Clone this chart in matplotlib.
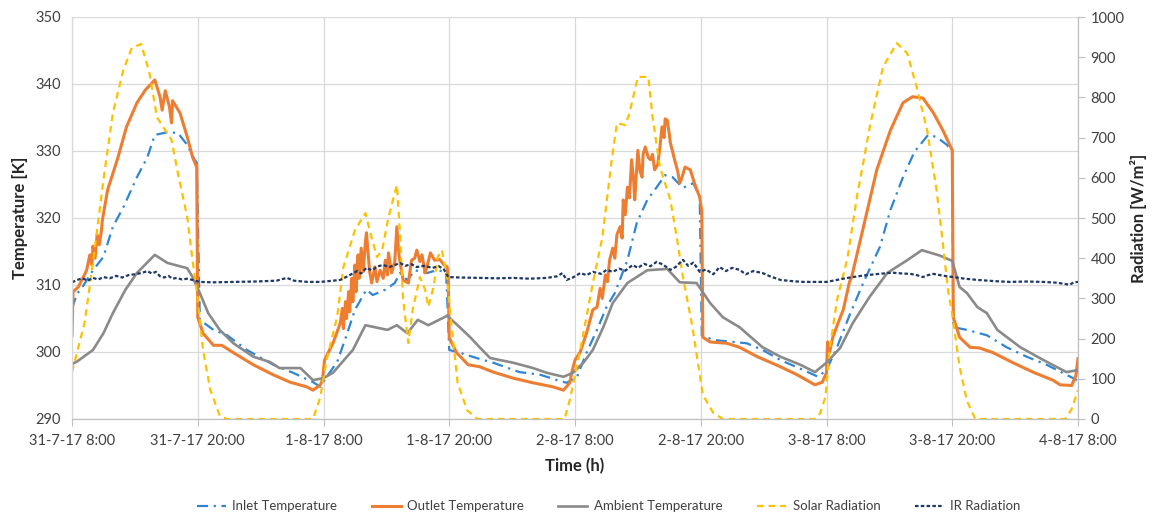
import matplotlib
matplotlib.use("Agg")
import matplotlib.pyplot as plt

plt.rcParams['font.family'] = ['Lato', 'DejaVu Sans']

# x values are hours since 31-7-17 8:00
tick_hours = [0, 12, 24, 36, 48, 60, 72, 84, 96]
tick_labels = ['31-7-17 8:00', '31-7-17 20:00', '1-8-17 8:00', '1-8-17 20:00',
               '2-8-17 8:00', '2-8-17 20:00', '3-8-17 8:00', '3-8-17 20:00',
               '4-8-17 8:00']

# (hour, K)
inlet = [(0, 306.5), (0.5, 308.8), (0.8, 309.2), (2.0, 312.2), (3.0, 314.2), (3.9, 318.7),
         (4.9, 321.6), (6.2, 326.1), (7.2, 329.1), (7.9, 332.4), (9.1, 332.8), (10.1, 332.7),
         (11.0, 330.9), (11.7, 328.7), (11.9, 328.3), (12.2, 304.8), (13.5, 303.3), (14.8, 302.5),
         (16.7, 300.3), (19.2, 298.1), (21.1, 296.9), (23.0, 295.5), (23.7, 294.8), (24.3, 296.3),
         (25.3, 298.5), (26.2, 302.5), (27.0, 306.3), (28.1, 309.3), (28.7, 308.5), (29.9, 309.3),
         (30.8, 310.3), (31.3, 311.8), (32.0, 310.7), (32.7, 312.2), (33.9, 311.8), (34.8, 312.2),
         (35.7, 312.0), (36.0, 300.3), (37.0, 299.9), (38.6, 299.1), (40.2, 298.4), (42.7, 297.0),
         (44.7, 296.6), (46.3, 295.8), (47.2, 295.4), (48.2, 296.3), (49.1, 299.9), (50.1, 303.3),
         (51.0, 306.7), (51.8, 308.8), (53.0, 313.7), (53.9, 319.3), (54.9, 322.7), (55.8, 324.6),
         (56.6, 326.4), (57.3, 326.1), (58.3, 324.5), (59.3, 325.2), (59.9, 323.1), (60.1, 302.5),
         (61.2, 301.8), (63.1, 301.5), (64.4, 301.3), (65.9, 300.3), (67.6, 298.8), (69.8, 297.3),
         (71.2, 296.3), (72.0, 297.3), (73.0, 300.7), (74.2, 305.5), (75.5, 310.3), (77.1, 315.7),
         (78.1, 321.2), (79.3, 326.1), (80.4, 329.9), (81.7, 332.4), (82.5, 332.1), (83.5, 330.9),
         (84.0, 329.9), (84.1, 303.7), (85.4, 303.3), (87.3, 302.5), (89.2, 300.7), (91.1, 299.3),
         (93.0, 298.1), (94.9, 296.6), (95.9, 295.8)]

outlet = [(0, 302.5), (0.1, 309.0), (0.6, 309.7), (1.4, 312.2), (1.7, 314.5), (1.9, 313.0),
          (2.0, 315.8), (2.2, 314.0), (2.4, 317.5), (2.6, 316.0), (2.8, 318.0), (2.9, 319.7),
          (3.4, 324.2), (4.4, 329.1), (5.2, 333.6), (6.2, 337.2), (7.0, 339.1), (7.9, 340.6),
          (8.4, 338.1), (8.6, 336.1), (8.9, 339.0), (9.3, 336.6), (9.5, 334.2), (9.6, 337.5),
          (10.3, 335.7), (11.0, 332.1), (11.5, 329.1), (11.9, 327.6), (12.0, 305.2), (12.5, 302.8),
          (13.5, 301.0), (14.3, 301.0), (15.4, 299.9), (17.3, 298.1), (19.2, 296.6), (20.8, 295.5),
          (22.4, 294.8), (23.0, 294.3), (23.7, 295.1), (23.9, 295.8), (24.1, 298.8), (24.9, 301.3),
          (25.6, 304.3), (25.8, 306.5), (25.9, 303.5), (26.1, 307.5), (26.2, 305.0), (26.4, 309.0),
          (26.5, 306.0), (26.7, 311.0), (26.8, 307.5), (27.0, 313.0), (27.1, 309.0), (27.3, 314.5),
          (27.4, 311.0), (27.6, 315.5), (27.8, 312.0), (28.0, 316.5), (28.1, 317.8), (28.3, 314.0),
          (28.4, 312.0), (28.6, 310.3), (28.9, 312.7), (29.1, 310.5), (29.4, 312.2), (29.7, 311.0),
          (29.9, 313.7), (30.1, 311.5), (30.2, 314.8), (30.5, 311.8), (30.8, 313.5), (31.0, 318.7),
          (31.2, 314.5), (31.4, 312.5), (31.6, 310.7), (32.1, 310.3), (32.4, 313.7), (32.7, 314.0),
          (32.9, 315.2), (33.2, 313.5), (33.4, 314.5), (33.7, 311.8), (34.0, 313.5), (34.2, 314.8),
          (34.6, 313.7), (35.1, 313.8), (35.5, 313.0), (35.8, 312.7), (35.9, 311.0), (36.0, 302.1),
          (36.7, 299.9), (37.8, 298.1), (38.9, 297.8), (40.2, 297.0), (42.1, 296.1), (44.0, 295.4),
          (45.9, 294.8), (46.9, 294.3), (47.5, 295.4), (47.7, 297.0), (48.0, 298.8), (48.5, 300.0),
          (49.1, 302.8), (49.7, 306.3), (50.1, 306.7), (50.4, 309.5), (50.6, 308.0), (50.9, 311.5),
          (51.1, 310.5), (51.3, 313.7), (51.6, 315.5), (51.8, 314.0), (52.0, 317.5), (52.3, 318.7),
          (52.5, 317.0), (52.6, 322.7), (52.8, 320.5), (53.0, 324.6), (53.2, 323.0), (53.4, 328.7),
          (53.6, 325.5), (53.7, 322.7), (53.9, 327.5), (54.0, 330.1), (54.2, 327.0), (54.4, 326.1),
          (54.5, 329.5), (54.7, 330.6), (55.0, 329.0), (55.2, 328.7), (55.4, 329.5), (55.6, 327.2),
          (55.9, 328.0), (56.1, 330.5), (56.3, 333.6), (56.5, 332.0), (56.6, 334.8), (56.8, 334.6),
          (57.0, 332.5), (57.1, 331.2), (57.3, 330.0), (57.5, 328.7), (57.8, 327.0), (58.0, 325.2),
          (58.2, 326.0), (58.5, 327.6), (59.0, 327.2), (59.4, 325.2), (59.9, 323.1), (60.1, 321.0),
          (60.2, 302.2), (60.9, 301.5), (62.5, 301.3), (63.7, 300.7), (65.4, 299.3), (67.6, 297.8),
          (69.2, 296.6), (70.9, 295.1), (71.6, 295.5), (72.0, 296.9), (72.1, 301.5), (72.3, 300.0),
          (72.6, 302.2), (73.1, 304.3), (73.6, 306.3), (74.2, 310.5), (74.4, 311.2), (75.5, 318.5),
          (76.8, 327.2), (78.1, 333.1), (79.3, 337.2), (80.2, 338.1), (81.2, 337.9), (82.2, 335.7),
          (83.1, 333.1), (84.0, 330.1), (84.1, 305.2), (84.7, 302.2), (85.7, 300.7), (86.6, 300.6),
          (87.9, 299.9), (89.8, 298.4), (91.7, 297.0), (93.6, 295.8), (94.3, 295.1), (95.4, 295.0),
          (95.8, 296.5), (96.0, 299.0)]

ambient = [(0, 298.2), (0.5, 298.6), (2.0, 300.3), (3.0, 302.8), (3.9, 305.8), (5.1, 309.3),
           (6.2, 311.8), (7.9, 314.5), (9.1, 313.3), (11.0, 312.5), (11.5, 311.2), (12.2, 308.8),
           (13.0, 305.8), (14.1, 303.3), (15.4, 301.3), (17.3, 299.3), (18.9, 298.5), (19.8, 297.6),
           (21.8, 297.6), (23.0, 295.8), (24.0, 296.1), (24.9, 296.9), (26.8, 300.3), (28.0, 304.0),
           (30.1, 303.3), (31.0, 304.0), (32.0, 302.8), (33.0, 304.8), (34.0, 304.0), (35.8, 305.4),
           (37.0, 303.7), (38.0, 302.2), (38.9, 300.7), (39.9, 299.1), (42.1, 298.4), (44.0, 297.6),
           (45.3, 296.9), (46.9, 296.3), (47.8, 296.9), (48.8, 298.4), (49.7, 300.3), (50.7, 303.7),
           (51.6, 307.3), (53.0, 310.3), (54.9, 312.2), (56.8, 312.4), (58.0, 310.4), (59.6, 310.3),
           (60.9, 307.3), (62.1, 305.2), (63.7, 303.7), (65.9, 300.7), (67.6, 299.3), (69.5, 298.1),
           (70.9, 297.0), (72.0, 298.4), (73.3, 300.6), (74.5, 304.3), (76.1, 308.2), (77.8, 311.8),
           (79.7, 313.7), (81.1, 315.2), (82.8, 314.4), (84.0, 313.6), (84.7, 309.7), (85.4, 308.8),
           (86.4, 306.7), (87.3, 305.8), (88.3, 303.3), (90.5, 300.7), (92.7, 298.8), (94.9, 297.0),
           (96.0, 297.3)]

# (hour, W/m2)
solar = [(0, 117), (1.2, 239), (2.0, 388), (3.0, 595), (3.9, 761), (4.9, 868), (5.7, 923),
         (6.6, 933), (7.4, 860), (8.1, 751), (9.5, 694), (10.1, 612), (11.0, 502), (11.5, 395),
         (11.9, 320), (12.5, 172), (13.2, 72), (14.1, 8), (14.8, 0), (23.0, 0), (23.7, 55),
         (24.3, 147), (25.3, 254), (25.9, 378), (27.0, 470), (28.0, 512), (28.4, 470), (29.1, 403),
         (29.6, 420), (30.2, 502), (31.0, 582), (31.3, 462), (31.6, 296), (32.1, 189), (32.5, 271),
         (33.2, 353), (33.7, 321), (34.0, 279), (34.5, 328), (34.9, 403), (35.3, 420), (35.8, 353),
         (36.1, 260), (36.8, 90), (37.7, 22), (38.7, 0), (47.0, 0), (47.5, 47), (48.5, 172),
         (49.7, 338), (50.6, 450), (51.5, 644), (52.0, 736), (52.8, 731), (53.2, 761), (54.0, 851),
         (55.0, 851), (55.4, 751), (56.1, 627), (57.1, 545), (57.7, 453), (58.3, 353), (59.2, 230),
         (60.2, 60), (61.2, 15), (62.1, 0), (71.0, 0), (71.4, 15), (71.9, 55), (72.3, 172),
         (73.0, 296), (74.0, 400), (74.9, 552), (76.2, 736), (77.4, 876), (78.7, 935), (79.7, 910),
         (80.6, 826), (81.6, 719), (82.5, 570), (83.1, 438), (83.6, 320), (84.0, 260), (84.7, 130),
         (85.4, 45), (86.2, 0), (94.8, 0), (95.4, 25), (96.0, 72)]

ir = [(0, 340), (0.5, 346), (1.0, 350), (1.5, 344), (2.0, 351), (2.5, 347), (3.0, 353),
      (3.6, 350), (4.2, 356), (4.8, 352), (5.4, 358), (6.0, 360), (6.6, 363), (7.2, 368),
      (7.6, 362), (8.0, 366), (8.4, 355), (8.8, 352), (9.2, 356), (9.6, 349), (10.0, 351),
      (10.5, 347), (11.0, 349), (11.5, 346), (12.2, 341), (13.5, 340), (15.4, 341), (17.5, 342),
      (19.5, 344), (20.5, 351), (21.2, 344), (22.5, 341), (23.7, 341), (24.5, 343), (25.6, 346),
      (26.3, 355), (27.2, 368), (27.6, 362), (28.1, 376), (28.6, 370), (29.2, 380), (29.7, 383),
      (30.3, 378), (31.0, 385), (31.3, 388), (31.8, 381), (32.4, 385), (32.9, 378), (33.6, 381),
      (34.4, 376), (35.0, 380), (35.5, 372), (35.9, 353), (37.0, 352), (38.9, 351), (40.5, 350),
      (42.1, 351), (43.7, 349), (45.3, 351), (46.3, 355), (46.8, 363), (47.2, 346), (47.8, 352),
      (48.5, 363), (49.1, 358), (49.7, 366), (50.5, 361), (51.0, 371), (51.6, 366), (52.2, 374),
      (52.8, 369), (53.5, 383), (54.0, 376), (54.6, 386), (55.2, 380), (55.8, 391), (56.4, 384),
      (57.1, 371), (57.6, 378), (58.3, 396), (58.8, 381), (59.3, 389), (59.9, 366), (60.5, 372),
      (61.2, 360), (61.8, 378), (62.4, 368), (63.0, 376), (63.7, 371), (64.3, 360), (65.0, 368),
      (65.9, 363), (66.6, 355), (67.6, 346), (68.7, 343), (69.8, 341), (71.0, 341), (72.0, 341),
      (73.0, 346), (74.0, 351), (75.0, 355), (75.9, 358), (77.0, 361), (78.3, 364), (79.2, 362),
      (80.0, 361), (80.6, 358), (81.2, 353), (81.7, 358), (82.2, 361), (83.0, 357), (84.1, 353),
      (85.2, 349), (86.4, 346), (88.0, 343), (89.5, 341), (91.0, 342), (92.7, 341), (94.0, 339),
      (95.2, 334), (95.6, 340), (96.0, 341)]

fig = plt.figure(figsize=(11.55, 5.16), dpi=100)
ax = fig.add_axes([72 / 1155, 1 - 419 / 516, 1006 / 1155, 402 / 516])
ax2 = ax.twinx()

grey_txt = '#404040'

h, v = zip(*inlet)
l1, = ax.plot(h, v, color='#2E86D4', lw=1.6, ls=(0, (5, 2.5, 1, 2.5)), label='Inlet Temperature')
h, v = zip(*outlet)
l2, = ax.plot(h, v, color='#ED7D31', lw=2.2, label='Outlet Temperature')
h, v = zip(*ambient)
l3, = ax.plot(h, v, color='#8A8A8A', lw=1.9, label='Ambient Temperature')
h, v = zip(*solar)
l4, = ax2.plot(h, v, color='#FFC000', lw=1.6, ls=(0, (3, 2.2)), label='Solar Radiation')
h, v = zip(*ir)
l5, = ax2.plot(h, v, color='#1F3864', lw=1.6, ls=(0, (1.6, 1.0)), label='IR Radiation')

ax.set_xlim(0, 96)
ax.set_ylim(290, 350)
ax2.set_ylim(0, 1000)
ax.set_xticks(tick_hours)
ax.set_xticklabels(tick_labels)
ax.set_yticks(range(290, 351, 10))
ax2.set_yticks(range(0, 1001, 100))

ax.grid(True, color='#D9D9D9', lw=0.9)
ax.set_axisbelow(True)
for a in (ax, ax2):
    a.spines['top'].set_visible(False)
    a.spines['left'].set_color('#D9D9D9')
    a.spines['bottom'].set_color('#BFBFBF')
    a.spines['right'].set_color('#BFBFBF')
ax.tick_params(axis='y', length=0, labelsize=10.5, labelcolor=grey_txt, pad=8)
ax.tick_params(axis='x', length=5, color='#BFBFBF', labelsize=10.5, labelcolor=grey_txt, pad=6)
ax2.tick_params(axis='y', length=5, color='#BFBFBF', labelsize=10.5, labelcolor=grey_txt, pad=4)

ax.set_ylabel('Temperature [K]', fontsize=12, fontweight='bold', color='#262626')
ax.yaxis.set_label_coords(-0.044, 0.5)
ax2.set_ylabel('Radiation [W/m²]', fontsize=12, fontweight='bold', color='#262626')
ax2.yaxis.set_label_coords(1.052, 0.5)
ax.set_xlabel('Time (h)', fontsize=12, fontweight='bold', color='#262626')
ax.xaxis.set_label_coords(0.5, -0.097)

fig.legend([l1, l2, l3, l4, l5],
           ['Inlet Temperature', 'Outlet Temperature', 'Ambient Temperature',
            'Solar Radiation', 'IR Radiation'],
           loc='center', bbox_to_anchor=(0.527, 0.019), ncol=5, frameon=False,
           fontsize=9.5, handlelength=2.2, handletextpad=0.5, columnspacing=2.6,
           labelcolor=grey_txt)

fig.savefig('out.png', dpi=100)
